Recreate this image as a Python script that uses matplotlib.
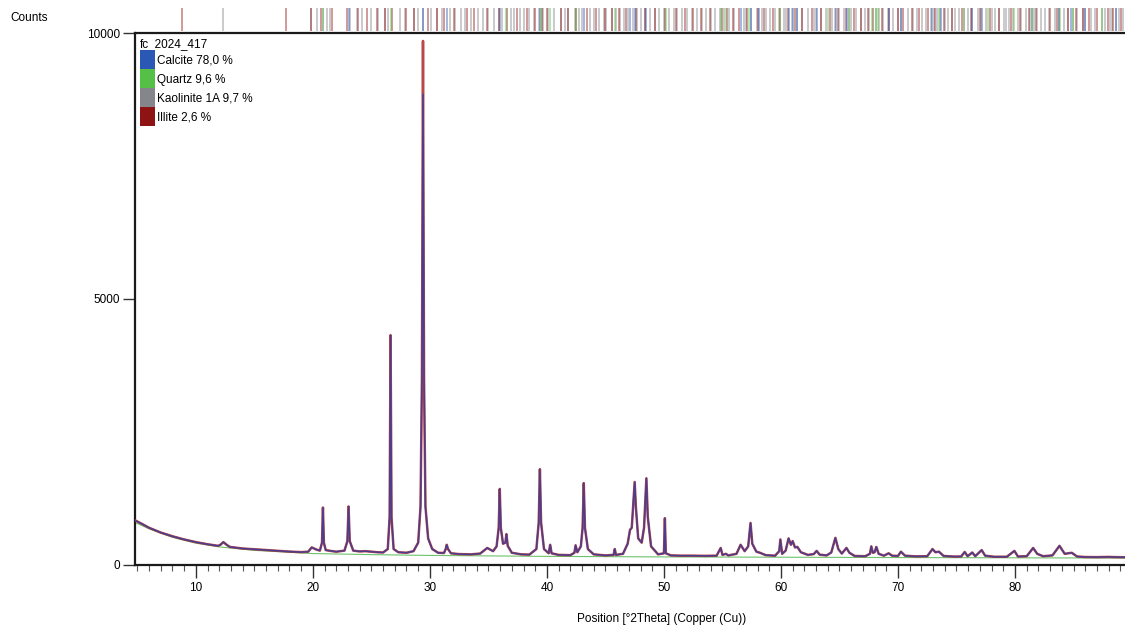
import matplotlib
matplotlib.use("Agg")
import matplotlib.pyplot as plt
from matplotlib.patches import Patch
from matplotlib.ticker import MultipleLocator

plt.rcParams['font.family'] = ['Liberation Sans', 'DejaVu Sans']

two_theta = [4.8, 5.5, 6.0, 7.0, 8.0, 9.0, 10.0, 11.0, 11.9, 12.1,
             12.35, 12.6, 12.9, 14.0, 15.0, 16.0, 17.0, 18.0, 19.0, 19.6,
             19.9, 20.3, 20.6, 20.78, 20.86, 20.94, 21.1, 21.5, 22.0,
             22.7, 22.95, 23.05, 23.15, 23.45, 24.0, 24.5, 25.0, 25.5, 26.0,
             26.4, 26.56, 26.64, 26.72, 26.9, 27.3, 28.0, 28.6, 29.0, 29.2,
             29.32, 29.41, 29.5, 29.62, 29.85, 30.2,
             30.7, 31.2, 31.35, 31.44, 31.55, 31.8, 32.5, 33.5, 34.3, 34.9,
             35.4, 35.7, 35.88, 35.97, 36.06, 36.25, 36.45, 36.54, 36.65, 37.0,
             37.8, 38.5, 39.1, 39.3, 39.4, 39.5, 39.75,
             40.15, 40.28, 40.4, 41.0, 42.0, 42.35, 42.45, 42.6, 42.9, 43.05,
             43.15, 43.25, 43.5, 44.0, 45.0, 45.7, 45.8, 45.9, 46.5, 46.9,
             47.1, 47.25, 47.4, 47.5, 47.6, 47.8, 48.1, 48.3, 48.5, 48.62,
             48.9, 49.5,
             50.0, 50.08, 50.16, 50.6, 51.5, 52.5, 53.5, 54.5, 54.85, 55.0,
             55.3, 55.5, 56.2, 56.55, 56.9, 57.2, 57.4, 57.55, 57.9, 58.2,
             58.7, 59.5, 59.85, 59.95, 60.1,
             60.4, 60.65, 60.85, 61.0, 61.2, 61.4, 61.7, 62.3, 62.8, 63.05,
             63.3, 63.9, 64.3, 64.65, 64.9, 65.2, 65.6, 65.85, 66.3, 67.2,
             67.6, 67.72, 67.85, 68.0, 68.15, 68.35, 68.8, 69.2, 69.5, 70.0,
             70.25, 70.6,
             71.5, 72.5, 72.95, 73.2, 73.5, 73.9, 74.8, 75.4, 75.7, 75.95,
             76.35, 76.6, 77.15, 77.45, 78.2, 79.3, 79.95, 80.25, 81.0, 81.55,
             81.9, 82.4, 83.2, 83.8, 84.25, 84.85, 85.3, 86.0, 87.0, 88.0,
             88.6, 89.5]
obs_counts = [840, 760, 700, 610, 540, 480, 430, 390, 360, 380,
              430, 385, 340, 310, 295, 280, 265, 252, 242, 250,
              330, 290, 270, 420, 1080, 420, 280, 265, 250,
              270, 450, 1100, 450, 270, 255, 260, 250, 240, 235,
              300, 900, 4320, 900, 300, 240, 230, 260, 420, 1100,
              3500, 9850, 3500, 1100, 500, 300,
              230, 225, 300, 380, 300, 220, 205, 200, 215, 320,
              260, 350, 700, 1430, 700, 400, 420, 580, 360, 230,
              200, 195, 300, 800, 1800, 800, 300,
              220, 380, 220, 190, 185, 230, 370, 240, 350, 700,
              1540, 700, 300, 200, 180, 190, 300, 190, 210, 400,
              660, 700, 1200, 1560, 1100, 500, 420, 700, 1630, 900,
              350, 200,
              220, 880, 220, 180, 175, 175, 172, 175, 320, 190,
              210, 180, 210, 380, 260, 350, 790, 400, 250, 230,
              185, 175, 260, 480, 210,
              270, 500, 380, 450, 330, 340, 240, 190, 205, 265,
              195, 180, 235, 510, 300, 215, 320, 230, 170, 165,
              210, 350, 230, 240, 340, 210, 175, 220, 175, 170,
              250, 175,
              162, 165, 300, 240, 250, 170, 158, 160, 245, 165,
              235, 165, 280, 175, 155, 155, 265, 160, 165, 320,
              210, 165, 180, 360, 210, 230, 160, 150, 148, 152,
              148, 145]

# calculated profile: same as measured, but the main calcite peak tops out lower
calc_counts = list(obs_counts)
calc_counts[two_theta.index(29.41)] = 8850

# background line
bg_theta = [4.8, 6, 8, 10, 12, 15, 20, 25, 30, 40, 50, 60, 70, 80, 89.5]
bg_counts = [800, 680, 520, 410, 340, 275, 215, 195, 180, 162, 152, 146, 140, 135, 130]

# reference stick positions for each phase
calcite_ref = [23.06, 29.41, 31.44, 35.97, 39.40, 43.16, 47.12, 47.51, 48.51, 56.57,
               57.40, 58.09, 60.68, 61.01, 61.39, 63.06, 64.67, 65.62, 69.20, 70.24,
               72.94, 73.70, 76.31, 77.15, 81.49, 83.76, 84.76, 86.0, 88.6]
quartz_ref = [20.86, 26.64, 36.54, 39.47, 40.29, 42.45, 45.79, 50.14, 54.87, 55.33,
              57.24, 59.96, 64.04, 65.79, 67.74, 68.14, 68.31, 73.47, 75.66, 77.67,
              79.88, 81.49, 83.84, 84.95, 87.44]
kaolinite_ref = [12.36, 19.86, 20.36, 20.87, 21.24, 21.47, 23.15, 23.80, 24.94, 25.54,
                 26.13, 26.46, 27.47, 27.91, 28.64, 29.44, 30.11, 31.04, 31.73, 32.62,
                 33.49, 34.58, 34.94, 35.46, 35.92, 36.12, 36.90, 37.72, 38.44, 38.90,
                 39.30, 40.12, 40.60, 41.18, 41.80, 42.40, 43.04, 43.70, 44.48, 45.04,
                 45.54, 45.90, 46.56, 46.96, 47.38, 48.04, 48.84, 49.60, 50.40, 51.14,
                 51.98, 52.80, 53.60, 54.40, 55.10, 55.56, 56.02, 56.80, 57.42, 58.36,
                 59.06, 59.82, 60.42, 60.94, 61.34, 62.30, 62.86, 63.40, 64.32, 64.98,
                 65.80, 66.40, 67.14, 68.12, 68.72, 69.60, 70.26, 70.84, 71.66, 72.40,
                 73.06, 73.62, 74.24, 74.90, 75.62, 76.36, 77.10, 78.02, 78.60, 79.24,
                 79.80, 80.50, 81.32, 81.92, 82.58, 83.42, 84.18, 84.94, 85.78, 86.52,
                 87.40, 88.10, 88.62, 89.20,
                 24.22, 29.02, 30.62, 32.14, 33.02, 34.10, 37.22, 38.02, 39.70, 41.52,
                 42.72, 44.02, 44.90, 46.22, 47.72, 48.42, 49.22, 50.02, 50.82, 51.52,
                 52.42, 53.22, 54.02, 54.82, 57.02, 57.92, 58.72, 59.52, 60.22, 61.82,
                 63.02, 63.82, 64.62, 65.42, 66.02, 66.82, 67.52, 68.42, 69.12, 70.02,
                 71.32, 72.02, 72.82, 73.32, 74.02, 74.62, 75.22, 76.02, 76.82, 77.52,
                 78.32, 79.02, 79.52, 80.22, 80.92, 81.62, 82.22, 82.92, 83.72, 84.52,
                 85.32, 86.02, 86.82, 87.72, 88.32, 88.92]
illite_ref = [8.84, 17.74, 19.82, 20.72, 22.90, 23.88, 25.48, 26.80, 27.92, 29.88,
              31.24, 32.10, 34.90, 35.92, 37.46, 38.30, 40.04, 41.80, 42.48, 44.94,
              45.54, 47.62, 50.06, 52.52, 54.92, 55.88, 57.12, 58.58, 59.94, 61.78,
              62.64, 64.90, 66.22, 67.88, 70.44, 72.60, 73.92, 75.50, 77.88, 79.62,
              81.20, 82.96, 84.54, 86.30, 87.92, 89.10,
              21.60, 24.60, 26.20, 28.60, 30.60, 33.20, 33.80, 36.60, 39.00, 39.60,
              41.20, 43.40, 44.20, 46.20, 46.80, 48.40, 49.20, 51.00, 51.80, 53.20,
              53.90, 55.40, 56.40, 58.00, 59.30, 60.60, 61.20, 63.40, 64.20, 65.60,
              66.80, 67.40, 68.60, 69.20, 70.00, 71.20, 71.80, 73.20, 74.60, 76.20,
              77.00, 78.60, 80.40, 81.80, 83.60, 85.20, 85.80, 87.00, 88.40]

phase_labels = ['Calcite 78,0 %', 'Quartz 9,6 %', 'Kaolinite 1A 9,7 %', 'Illite 2,6 %']
phase_colors = ['#2b58b5', '#55c046', '#85868c', '#8e1414']

x_lo, x_hi = 4.8, 89.4

fig = plt.figure(figsize=(11.25, 6.31), dpi=100)
ax = fig.add_axes([0.12, 0.1046, 0.88, 0.8431])

ax.plot(bg_theta, bg_counts, color='#6cc26c', lw=0.8, zorder=2)
ax.plot(two_theta, obs_counts, color='#b43434', lw=1.8, alpha=0.9, zorder=3)
ax.plot(two_theta, calc_counts, color='#4a3d8e', lw=1.1, zorder=4)

ax.set_xlim(x_lo, x_hi)
ax.set_ylim(0, 10000)
ax.set_xticks(range(10, 90, 10))
ax.xaxis.set_minor_locator(MultipleLocator(1))
ax.set_yticks([0, 5000, 10000])
ax.tick_params(axis='x', which='major', length=9, width=1, labelsize=8.5, pad=3, color='#333333')
ax.tick_params(axis='x', which='minor', length=4.5, width=0.8, color='#555555')
ax.tick_params(axis='y', which='major', length=9, width=1, labelsize=8.5, pad=2, color='#333333')
for side in ['left', 'bottom', 'top']:
    ax.spines[side].set_linewidth(1.6)
    ax.spines[side].set_color('#1a1a1a')
ax.spines['right'].set_visible(False)

handles = [Patch(facecolor=c, edgecolor='none') for c in phase_colors]
ax.legend(handles, phase_labels, title='fc_2024_417', loc='upper left',
          bbox_to_anchor=(0.0, 1.0), frameon=False, handlelength=1.25,
          handleheight=2.1, labelspacing=0.0, handletextpad=0.2,
          borderpad=0.45, borderaxespad=0.0, fontsize=8.5, title_fontsize=8.5,
          alignment='left')

# reference sticks strip above the plot
sax = fig.add_axes([0.12, 1 - 31 / 631, 0.88, 23 / 631])
sax.set_xlim(x_lo, x_hi)
sax.set_ylim(0, 1)
sax.axis('off')
for refs, col in zip([kaolinite_ref, illite_ref, calcite_ref, quartz_ref],
                     [phase_colors[2], phase_colors[3], phase_colors[0], phase_colors[1]]):
    sax.vlines(refs, 0, 1, colors=col, lw=1.1, alpha=0.55)

fig.text(0.009, 0.9715, 'Counts', fontsize=8.5, va='center', ha='left')
fig.text(0.588, 0.019, 'Position [°2Theta] (Copper (Cu))', fontsize=8.5, va='center', ha='center')

fig.savefig('out.png', dpi=100)
